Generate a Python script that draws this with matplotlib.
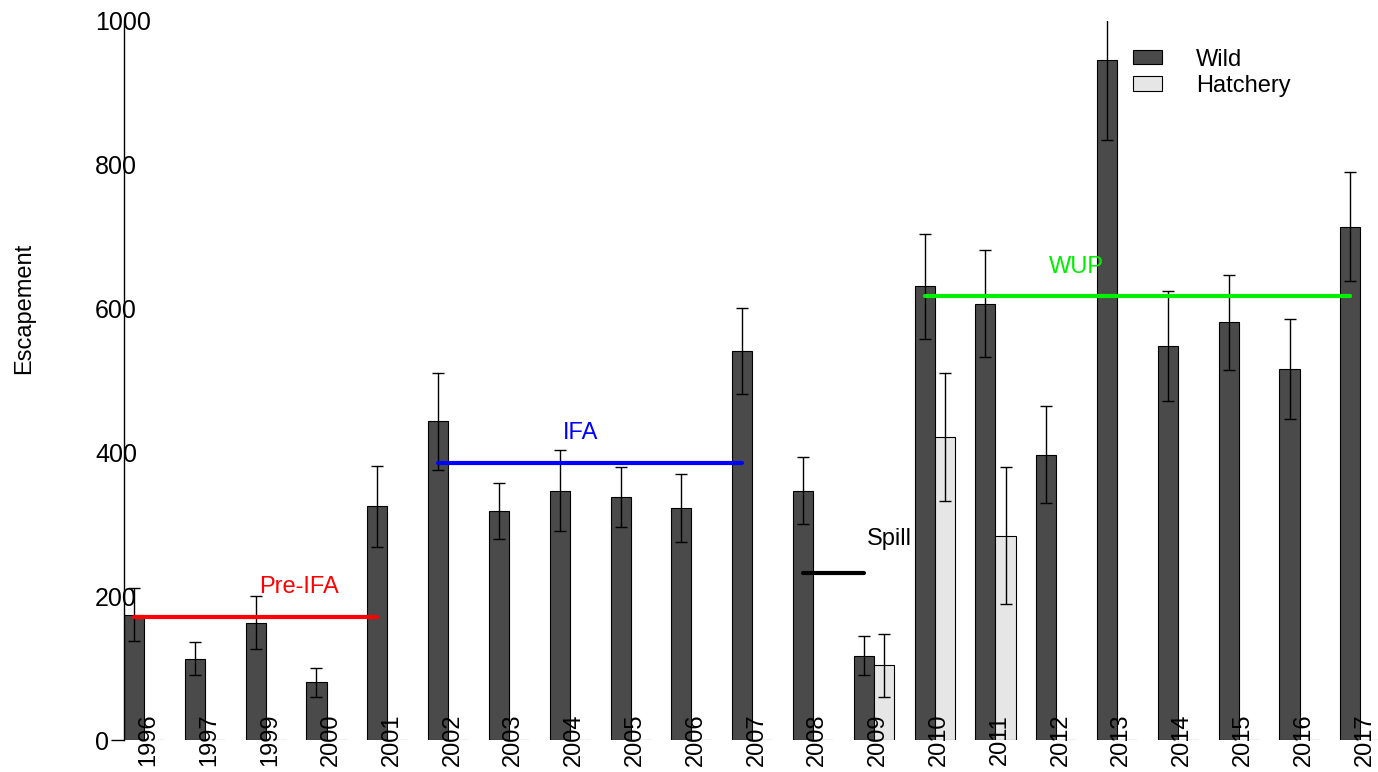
import numpy as np
import matplotlib
matplotlib.use("Agg")
import matplotlib.pyplot as plt
from matplotlib.patches import Patch

plt.rcParams['font.family'] = ['Liberation Sans', 'DejaVu Sans']

# Escapement estimates by return year (1998 not surveyed)
years = ['1996', '1997', '1999', '2000', '2001', '2002', '2003', '2004', '2005', '2006', '2007',
         '2008', '2009', '2010', '2011', '2012', '2013', '2014', '2015', '2016', '2017']
wild = [174, 113, 163, 80, 325, 443, 319, 347, 338, 323, 541,
        347, 117, 631, 607, 397, 946, 548, 581, 516, 714]
wild_err = [37, 23, 37, 20, 56, 67, 39, 56, 42, 47, 60,
            46, 27, 73, 74, 68, 112, 76, 66, 69, 76]
hatchery = [0, 0, 0, 0, 0, 0, 0, 0, 0, 0, 0,
            0, 104, 421, 284, 0, 0, 0, 0, 0, 0]
hatchery_err = [0, 0, 0, 0, 0, 0, 0, 0, 0, 0, 0,
                0, 44, 89, 95, 0, 0, 0, 0, 0, 0]

# flow regime periods: (label, first year, last year, colour)
periods = [('Pre-IFA', '1996', '2001', '#ff0000'),
           ('IFA', '2002', '2007', '#0000ff'),
           ('Spill', '2008', '2009', '#000000'),
           ('WUP', '2010', '2017', '#00ee00')]
# label positions (x in group units, y at text baseline)
period_label_pos = {'Pre-IFA': (2.88, 205), 'IFA': (7.50, 418),
                    'Spill': (12.58, 271), 'WUP': (15.66, 650)}

x = np.arange(len(years))
w = 0.33

fig = plt.figure(figsize=(13.78, 7.72), dpi=100)
ax = fig.add_axes([124 / 1378, 1 - 740 / 772, 1254 / 1378, 719 / 772])

ax.bar(x, wild, width=w, align='edge', color='#4a4a4a', edgecolor='black', linewidth=0.8,
       label='Wild', zorder=2)
ax.bar(x + w, hatchery, width=w, align='edge', color='#e6e6e6', edgecolor='black', linewidth=0.8,
       label='Hatchery', zorder=2)

ax.errorbar(x + w / 2, wild, yerr=wild_err, fmt='none', ecolor='black', elinewidth=1.0,
            capsize=4, capthick=1.0, zorder=3)
has_h = np.array(hatchery) > 0
ax.errorbar((x + 1.5 * w)[has_h], np.array(hatchery)[has_h], yerr=np.array(hatchery_err)[has_h],
            fmt='none', ecolor='black', elinewidth=1.0, capsize=4, capthick=1.0, zorder=3)

# period mean lines across the wild bars
for name, y0, y1, col in periods:
    i0, i1 = years.index(y0), years.index(y1)
    mean_val = np.mean(wild[i0:i1 + 1])
    ax.plot([i0 + w / 2, i1 + w / 2], [mean_val, mean_val], color=col, lw=3,
            solid_capstyle='round', zorder=4)
    lx, ly = period_label_pos[name]
    ax.text(lx, ly, name, color=col, fontsize=17, ha='center', va='baseline', zorder=5)

# year labels sit across the baseline
for i, yr in enumerate(years):
    ax.text(i + w + 0.07, 0, yr, rotation=90, ha='center', va='center', fontsize=17,
            clip_on=False, zorder=6)

ax.set_xlim(0, 20.62)
ax.set_ylim(0, 1000)
ax.set_xticks([])
ax.set_yticks(np.arange(0, 1001, 200))
ax.tick_params(axis='y', length=9.4, width=1.0, pad=11.5, labelsize=18)
for lab in ax.get_yticklabels():
    lab.set_horizontalalignment('left')
# only the zero tick mark shows
for t in ax.yaxis.get_major_ticks()[1:]:
    t.tick1line.set_visible(False)

for s in ['top', 'right', 'bottom']:
    ax.spines[s].set_visible(False)
ax.spines['left'].set_linewidth(1.0)

fig.text(24 / 1378, 1 - 308 / 772, 'Escapement', rotation=90, ha='center', va='center', fontsize=17)

handles = [Patch(facecolor='#4a4a4a', edgecolor='black', linewidth=0.8),
           Patch(facecolor='#e6e6e6', edgecolor='black', linewidth=0.8)]
fig.legend(handles, ['Wild', 'Hatchery'], loc='upper left', bbox_to_anchor=(1133 / 1378, 0.937),
           frameon=False, fontsize=17, handlelength=1.23, handleheight=0.55,
           handletextpad=1.44, labelspacing=0.18, borderpad=0, borderaxespad=0)

plt.savefig('out.png', dpi=100)
